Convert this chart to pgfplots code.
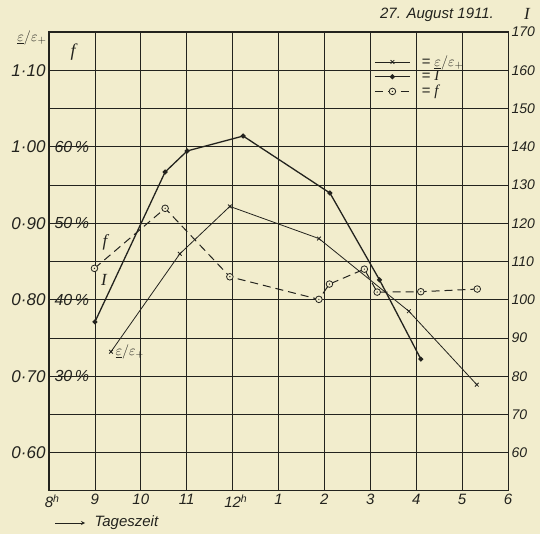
\documentclass[border=0pt]{standalone}
\usepackage{pgfplots}
\pgfplotsset{compat=1.18}
\usepackage{fontspec}
\setmainfont{Liberation Sans}
\newfontfamily\serifi{Liberation Serif}
\definecolor{bg}{RGB}{242,237,205}
\definecolor{ink}{RGB}{35,35,30}
\pgfdeclareplotmark{odot}{%
  \pgfscope
  \pgfsetfillcolor{bg}%
  \pgfpathcircle{\pgfpointorigin}{\pgfplotmarksize}\pgfusepathqfillstroke
  \endpgfscope
  \pgfscope
  \pgfsetfillcolor{ink}%
  \pgfpathcircle{\pgfpointorigin}{0.7pt}\pgfusepathqfill
  \endpgfscope}
\newcommand{\fs}[1]{\fontsize{#1}{#1}\selectfont\itshape}
\newcommand{\epslab}{$\underline{\varepsilon}/\varepsilon_{+}$}
\newcommand{\Ilab}{{\serifi\itshape I}}
\newcommand{\flab}{{\serifi\itshape f}}
\begin{document}
\begin{tikzpicture}[x=1bp,y=1bp]
\fill[bg] (-49,-43) rectangle (491,491);
\pgfplotsset{
  base/.style={at={(0,0)},anchor=south west,width=459bp,height=459bp,
    scale only axis,xmin=8,xmax=18,clip=false,major tick length=0pt},
  epsstyle/.style={ink,line width=0.8bp,mark=x,mark size=2.6bp,mark options={solid,line width=0.8bp}},
  Istyle/.style={ink,line width=1.3bp,mark=*,mark size=1.8bp,mark options={solid}},
  fstyle/.style={ink,line width=1bp,dash pattern=on 8bp off 5bp,mark=odot,mark size=3.3bp,
    mark options={solid,draw=ink,line width=0.8bp}},
  legend image code/.code={\draw[mark repeat=2,mark phase=2,#1] plot coordinates {(0bp,0bp) (17.5bp,0bp) (35bp,0bp)};}
}
% I axis (main, grid, right labels, x labels)
\begin{axis}[base, ymin=50, ymax=170,
  axis line style={ink,line width=1bp},
  grid=major, grid style={ink,line width=0.8bp},
  xtick={8,...,18},
  xticklabels={8\rlap{\textsuperscript{h}},9,10,11,12\rlap{\textsuperscript{h}},1,2,3,4,5,6},
  ytick={60,70,...,170},
  yticklabels={60,70,80,90,100,110,120,130,140,150,160,170},
  yticklabel pos=right,
  xticklabel style={font=\fs{15bp},text=ink},
  yticklabel style={font=\fs{14bp},text=ink},
]
\addplot[Istyle] coordinates {(9.0,94.2) (10.53,133.4) (11.01,138.9) (12.23,142.8) (14.12,127.9) (15.2,105.2) (16.1,84.5)};
\end{axis}
% epsilon axis (left labels)
\begin{axis}[base, ymin=0.55, ymax=1.15,
  axis line style={draw=none}, xtick=\empty,
  ytick={0.6,0.7,0.8,0.9,1.0,1.1},
  yticklabels={0·60,0·70,0·80,0·90,1·00,1·10},
  yticklabel style={font=\fs{17bp},text=ink},
]
\addplot[epsstyle] coordinates {(9.35,0.732) (10.85,0.86) (11.94,0.922) (13.88,0.88) (15.84,0.785) (17.32,0.689)};
\end{axis}
% f axis (percent labels inside) + legend
\begin{axis}[base, ymin=15, ymax=75,
  axis line style={draw=none}, xtick=\empty,
  ytick={30,40,50,60},
  yticklabels={30\,\%,40\,\%,50\,\%,60\,\%},
  yticklabel style={font=\fs{16bp},text=ink,anchor=west,xshift=2bp},
  legend style={at={(0.706,0.955)},anchor=north west,draw=none,fill=none,
    font=\fs{15bp},text=ink,row sep=-1bp,inner sep=1bp},
  legend cell align=left,
]
\addlegendimage{epsstyle}
\addlegendentry{\hspace*{9bp}= \epslab}
\addlegendimage{Istyle}
\addlegendentry{\hspace*{9bp}= \Ilab}
\addplot[fstyle] coordinates {(8.99,44.1) (10.53,51.95) (11.94,43.0) (13.88,40.05) (14.11,42.05) (14.87,44.0) (15.15,41.0) (16.1,41.05) (17.33,41.4)};
\addlegendentry{\hspace*{9bp}= \flab}
\end{axis}
% annotations
\node[text=ink,font=\fs{15bp}] at (388,476) {27. August 1911.};
\node[text=ink,font=\fs{17bp}] at (478,477) {\Ilab};
\node[text=ink,font=\fs{15bp}] at (-17,453) {\epslab};
\node[text=ink,font=\fs{18bp}] at (24,439) {\flab};
\node[text=ink,font=\fs{17bp}] at (56,249) {\flab};
\node[text=ink,font=\fs{17bp}] at (55,211) {\Ilab};
\node[text=ink,font=\fs{14bp},anchor=west] at (63,139) {\epslab};
\draw[ink,line width=0.8bp,-stealth] (6,-32) -- (36,-32);
\node[text=ink,font=\fs{15bp},anchor=west] at (42,-32) {Tageszeit};
\pgfresetboundingbox
\useasboundingbox (-49,-43) rectangle (491,491);
\end{tikzpicture}
\end{document}
